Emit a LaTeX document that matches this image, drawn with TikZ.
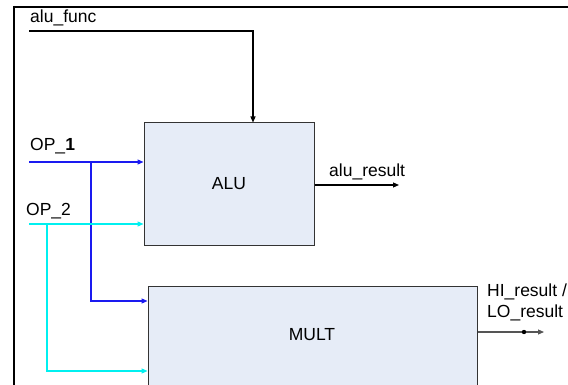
\documentclass[tikz,border=0pt]{standalone}
\usepackage{fontspec}
\setmainfont{Liberation Sans}
\usetikzlibrary{arrows.meta}
\definecolor{boxfill}{HTML}{E6ECF7}
\definecolor{boxline}{HTML}{333333}
\definecolor{opone}{HTML}{1A1AF0}
\definecolor{optwo}{HTML}{00F0F0}
\definecolor{outwire}{HTML}{555555}
\begin{document}
\begin{tikzpicture}[x=1pt,y=-1pt,
  lbl/.style={inner sep=0pt, anchor=west, font=\fontsize{17.5}{21}\selectfont},
  block/.style={draw=boxline, fill=boxfill, line width=1pt, inner sep=0pt, font=\fontsize{17.5}{21}\selectfont},
  tip/.style={-{Triangle[length=6pt,width=5pt]}},
  wire/.style={line width=1.1pt},
  frameline/.style={line width=2.2pt, black}
]
\useasboundingbox (0,0) rectangle (568,385);
\clip (0,0) rectangle (568,385);
% frame
\draw[frameline] (14,7) -- (575,7);
\draw[frameline] (14,6) -- (14,395);
% blocks
\node[block, minimum width=170pt, minimum height=122pt] (alu) at (229,184) {ALU};
\node[block, minimum width=329pt, minimum height=102pt] (mult) at (312.5,337) {};
\node[inner sep=0pt, font=\fontsize{17.5}{21}\selectfont] (multlbl) at (312,335) {MULT};
% labels
\node[lbl] (alufunc) at (30,18) {alu\_func};
\node[lbl] (op1) at (30,146) {OP\_\textbf{1}};
\node[lbl] (op2) at (26,211) {OP\_2};
\node[lbl] (alures) at (329,172) {alu\_result};
\node[lbl, align=left] (hilo) at (487,302) {HI\_result /\\LO\_result};
% coordinates
\coordinate (fs) at (29,31);
\coordinate (fc) at (253,31);
\coordinate (o1s) at (29,162);
\coordinate (o1b) at (91,162);
\coordinate (o1c) at (91,301);
\coordinate (o2s) at (29,224);
\coordinate (o2b) at (47,224);
\coordinate (o2c) at (47,371);
\coordinate (are) at (399,185);
\coordinate (mdot) at (524,332);
\coordinate (mend) at (544,332);
% connectors
\draw[wire, tip] (fs) -- (fc) -- (fc |- alu.north);
\draw[wire, opone, tip] (o1s) -- (o1s -| alu.west);
\draw[wire, opone, tip] (o1b) -- (o1c) -- (o1c -| mult.west);
\draw[wire, optwo, tip] (o2s) -- (o2s -| alu.west);
\draw[wire, optwo, tip] (o2b) -- (o2c) -- (o2c -| mult.west);
\draw[wire, tip] (are -| alu.east) -- (are);
\draw[wire, outwire, tip] (mdot -| mult.east) -- (mend);
\fill (mdot) circle (2.2pt);
\end{tikzpicture}
\end{document}
